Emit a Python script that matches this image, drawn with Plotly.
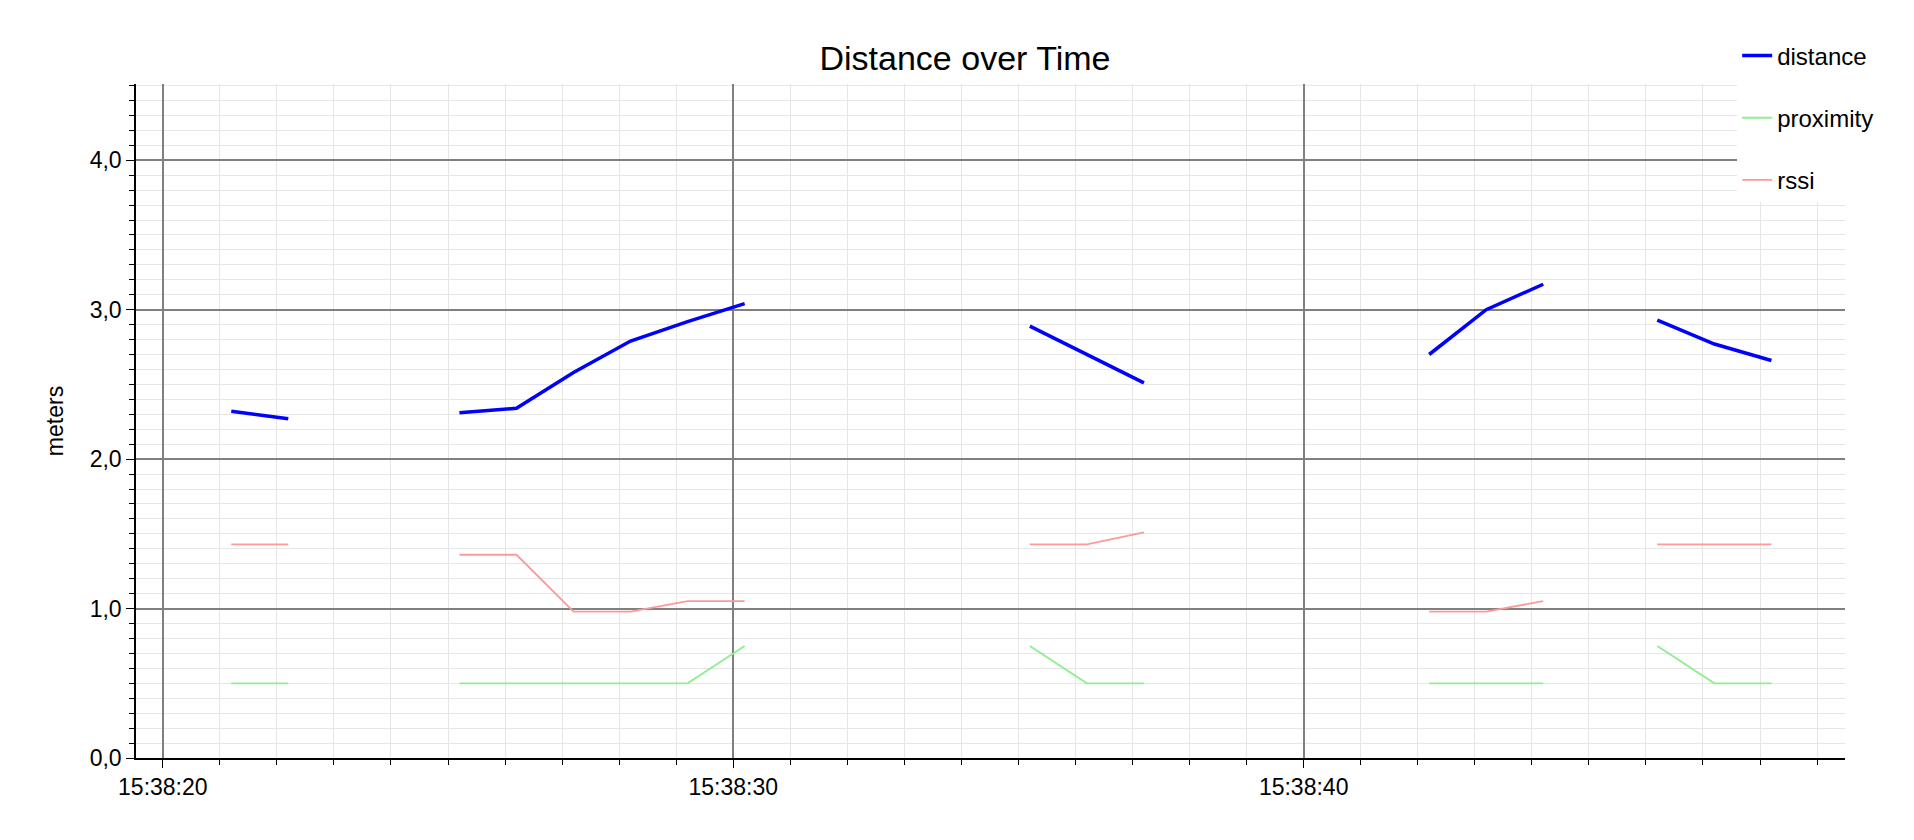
import plotly.graph_objects as go

base = "2024-01-01 15:38:"
secs = [21.2, 22.2, 23.2, 24.2, 25.2, 26.2, 27.2, 28.2, 29.2, 30.2, 31.2, 32.2, 33.2, 34.2,
        35.2, 36.2, 37.2, 38.2, 39.2, 40.2, 41.2, 42.2, 43.2, 44.2, 45.2, 46.2, 47.2, 48.2]
N = None
distance = [2.32, 2.27, N, N, 2.31, 2.34, 2.58, 2.79, 2.92, 3.04, N, N, N, N,
            2.89, 2.70, 2.51, N, N, N, N, 2.70, 3.00, 3.17, N, 2.93, 2.77, 2.66]
proximity = [0.5, 0.5, N, N, 0.5, 0.5, 0.5, 0.5, 0.5, 0.75, N, N, N, N,
             0.75, 0.5, 0.5, N, N, N, N, 0.5, 0.5, 0.5, N, 0.75, 0.5, 0.5]
rssi = [1.43, 1.43, N, N, 1.36, 1.36, 0.98, 0.98, 1.05, 1.05, N, N, N, N,
        1.43, 1.43, 1.51, N, N, N, N, 0.98, 0.98, 1.05, N, 1.43, 1.43, 1.43]

def ts(s):
    return f"{base}{s:06.3f}"

times = [ts(s) for s in secs]

fig = go.Figure()
fig.add_trace(go.Scatter(x=times, y=distance, mode="lines", name="distance", legendgroup="a",
                         line=dict(color="#0000ff", width=3.5), connectgaps=False))
fig.add_trace(go.Scatter(x=times, y=proximity, mode="lines", name="proximity", legendgroup="b",
                         line=dict(color="#90ee90", width=1.8), connectgaps=False))
fig.add_trace(go.Scatter(x=times, y=rssi, mode="lines", name="rssi", legendgroup="c",
                         line=dict(color="#ff9999", width=1.8), connectgaps=False))

fig.update_layout(
    width=1914, height=840, separators=",.",
    paper_bgcolor="white", plot_bgcolor="white",
    font=dict(family="Liberation Sans, Arial", size=23, color="black"),
    title=dict(text="Distance over Time", x=0.5, xanchor="center", y=0.94, yanchor="middle",
               font=dict(size=34)),
    margin=dict(l=128, r=77, t=76, b=90),
    legend=dict(x=1.02, y=1.075, xanchor="right", yanchor="top", bgcolor="white",
                font=dict(size=24), borderwidth=0, tracegroupgap=28),
    showlegend=True,
)
fig.update_xaxes(
    range=[ts(19.53), ts(49.49)], type="date", tickformat="%H:%M:%S",
    tick0=ts(20.0), dtick=10000, ticks="outside", ticklen=8, tickcolor="black",
    showline=True, linecolor="black", linewidth=1.5,
    showgrid=True, gridcolor="#808080", gridwidth=1.5, zeroline=False,
    minor=dict(dtick=1000, tick0=ts(20.0), ticks="outside", ticklen=5, tickcolor="black",
               showgrid=True, gridcolor="#e6e6e6", gridwidth=1),
)
fig.update_yaxes(
    range=[0, 4.51], tickformat=".1f", dtick=1, tick0=0, ticks="outside", ticklen=8,
    tickcolor="black", showline=True, linecolor="black", linewidth=1.5,
    showgrid=True, gridcolor="#808080", gridwidth=1.5, zeroline=False,
    title=dict(text="meters", font=dict(size=23), standoff=20),
    minor=dict(dtick=0.1, ticks="outside", ticklen=5, tickcolor="black",
               showgrid=True, gridcolor="#e6e6e6", gridwidth=1),
)
fig.write_html("out.html")
